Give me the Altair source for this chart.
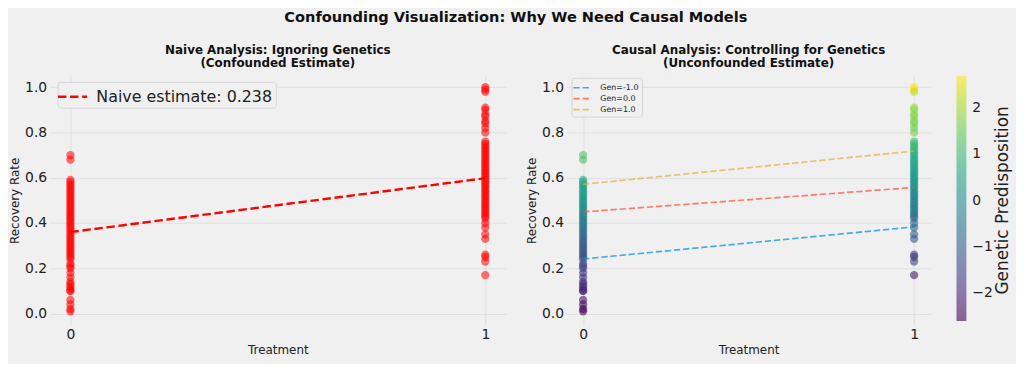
import altair as alt
import pandas as pd

# ---------------- data ----------------
t0_rate = [0.70, 0.68, 0.59, 0.58, 0.57, 0.56, 0.55, 0.54, 0.53, 0.52, 0.51, 0.50,
           0.49, 0.48, 0.47, 0.46, 0.45, 0.44, 0.43, 0.42, 0.41, 0.40, 0.39, 0.38,
           0.37, 0.36, 0.35, 0.34, 0.33, 0.32, 0.31, 0.30, 0.29, 0.28, 0.27, 0.26,
           0.25, 0.24, 0.22, 0.21, 0.20, 0.18, 0.16, 0.14, 0.13, 0.12, 0.11, 0.10,
           0.10, 0.06, 0.04, 0.02, 0.01]
t0_gen = [1.3, 1.2, 0.6, 0.5, 0.7, 0.4, 0.5, 0.3, 0.4, 0.2, 0.3, 0.1,
          0.2, 0.0, 0.1, -0.1, 0.0, -0.2, -0.3, -0.2, -0.4, -0.5, -0.4, -0.6,
          -0.7, -0.6, -0.8, -0.9, -0.8, -1.0, -1.1, -1.0, -1.2, -1.1, -1.3, -1.2,
          -1.4, -1.3, -1.5, -1.6, -1.5, -1.7, -1.8, -1.9, -1.8, -2.0, -1.9, -2.0,
          -2.1, -2.3, -2.4, -2.6, -2.5]

t1_rate = [1.00, 0.99, 0.98, 0.91, 0.90, 0.88, 0.87, 0.85, 0.84, 0.82, 0.80, 0.76,
           0.75, 0.74, 0.73, 0.72, 0.71, 0.70, 0.69, 0.68, 0.67, 0.66, 0.65, 0.64,
           0.63, 0.62, 0.61, 0.60, 0.59, 0.58, 0.57, 0.56, 0.55, 0.54, 0.53, 0.52,
           0.51, 0.50, 0.49, 0.48, 0.47, 0.46, 0.45, 0.44, 0.43, 0.42, 0.40, 0.38,
           0.35, 0.33, 0.26, 0.25, 0.23, 0.17]
t1_gen = [2.7, 2.6, 2.2, 1.9, 1.8, 1.7, 1.8, 1.6, 1.7, 1.5, 1.6, 1.0,
          1.1, 0.9, 1.0, 0.8, 0.9, 0.7, 0.8, 0.6, 0.7, 0.5, 0.6, 0.4,
          0.5, 0.3, 0.4, 0.2, 0.3, 0.1, 0.2, 0.0, 0.1, -0.1, 0.0, -0.2,
          -0.1, -0.3, -0.2, -0.4, -0.3, -0.5, -0.4, -0.6, -0.5, -0.7, -0.8, -0.9,
          -1.0, -1.1, -1.8, -1.7, -1.5, -2.2]

naive_treat = [0, 1]
naive_rate = [0.360, 0.598]
naive_label = "Naive estimate: 0.238"

gen_labels = ["Gen=-1.0", "Gen=0.0", "Gen=1.0"]
gen_rate_t0 = [0.241, 0.449, 0.571]
gen_rate_t1 = [0.383, 0.557, 0.718]
gen_colors = ["#008fd5", "#fc4f30", "#e5ae38"]

cbar_title = "Genetic Predisposition"

# ---------------- tables ----------------
points = pd.DataFrame({
    "treatment": [0] * len(t0_rate) + [1] * len(t1_rate),
    "rate": t0_rate + t1_rate,
    "gen": t0_gen + t1_gen,
})
naive = pd.DataFrame({"treatment": naive_treat, "rate": naive_rate,
                      "series": [naive_label] * 2})
rows = []
for lab, a, b in zip(gen_labels, gen_rate_t0, gen_rate_t1):
    rows.append({"treatment": 0, "rate": a, "series": lab})
    rows.append({"treatment": 1, "rate": b, "series": lab})
strata = pd.DataFrame(rows)

FONT = "DejaVu Sans"
BG = "#f0f0f0"
W_L, W_R, H = 460, 367, 251

xs = alt.Scale(domain=[-0.05, 1.05], nice=False, zero=False)
ys = alt.Scale(domain=[-0.05, 1.05], nice=False, zero=False)
xax = alt.Axis(values=[0, 1], format="d", title="Treatment")
yax = alt.Axis(values=[0, 0.2, 0.4, 0.6, 0.8, 1.0], format=".1f", title="Recovery Rate")

X = alt.X("treatment:Q", scale=xs, axis=xax)
Y = alt.Y("rate:Q", scale=ys, axis=yax)

# ---------------- left panel ----------------
left_pts = alt.Chart(points).mark_circle(size=70, opacity=0.55, color="red").encode(x=X, y=Y)
left_line = alt.Chart(naive).mark_line(strokeDash=[8.5, 3.7], strokeWidth=2.4).encode(
    x=X, y=Y,
    color=alt.Color("series:N",
                    scale=alt.Scale(domain=[naive_label], range=["red"]),
                    legend=alt.Legend(orient="none", legendX=8, legendY=6, title=None,
                                      symbolType="M-1.4,0H1.4", symbolStrokeWidth=2.4,
                                      symbolDash=[8.5, 3.7], symbolSize=441,
                                      labelFontSize=16, labelFont=FONT, labelColor="#222",
                                      labelLimit=400,
                                      fillColor=BG, strokeColor="#d4d4d4", padding=3,
                                      cornerRadius=3, labelOffset=12)),
)
left = alt.layer(left_pts, left_line).properties(
    width=W_L, height=H,
    title=alt.TitleParams(["Naive Analysis: Ignoring Genetics", "(Confounded Estimate)"],
                          fontSize=12, fontWeight="bold", font=FONT, lineHeight=13,
                          offset=6, anchor="middle", color="#111"),
)

# ---------------- right panel ----------------
right_pts = alt.Chart(points).mark_circle(size=70, opacity=0.6).encode(
    x=X, y=Y,
    color=alt.Color("gen:Q",
                    scale=alt.Scale(scheme="viridis", domain=[-2.6, 2.7], nice=False),
                    legend=alt.Legend(orient="right", title=None,
                                      gradientLength=247, gradientThickness=10,
                                      gradientStrokeWidth=0, offset=26,
                                      values=[-2, -1, 0, 1, 2], format="d",
                                      labelFontSize=14, labelFont=FONT, labelColor="#222",
                                      labelOffset=6)),
)
right_lines = alt.Chart(strata).mark_line(strokeDash=[6.4, 2.8], strokeWidth=1.7,
                                          opacity=0.7).encode(
    x=X, y=Y,
    color=alt.Color("series:N",
                    scale=alt.Scale(domain=gen_labels, range=gen_colors),
                    legend=alt.Legend(orient="none", legendX=5, legendY=2, title=None,
                                      symbolType="M-1.35,0H1.35", symbolStrokeWidth=1.7,
                                      symbolDash=[6.4, 2.8], symbolSize=144,
                                      symbolOpacity=0.7,
                                      labelFontSize=8, labelFont=FONT, labelColor="#222",
                                      fillColor=BG, strokeColor="#d4d4d4", padding=3,
                                      cornerRadius=3, labelOffset=12, rowPadding=0)),
)
cbar_lbl = alt.Chart(pd.DataFrame({"t": [cbar_title]})).mark_text(
    angle=270, align="center", baseline="middle", fontSize=17, font=FONT, color="#222"
).encode(text="t:N", x=alt.value(W_R + 73), y=alt.value(H / 2))

right = alt.layer(right_pts, right_lines, cbar_lbl).resolve_scale(color="independent").properties(
    width=W_R, height=H,
    title=alt.TitleParams(["Causal Analysis: Controlling for Genetics", "(Unconfounded Estimate)"],
                          fontSize=12, fontWeight="bold", font=FONT, lineHeight=13,
                          offset=6, anchor="middle", color="#111"),
)

chart = alt.hconcat(left, right, spacing=19).resolve_scale(color="independent").properties(
    title=alt.TitleParams("Confounding Visualization: Why We Need Causal Models",
                          fontSize=14.7, fontWeight="bold", font=FONT, anchor="middle",
                          offset=20, dx=6, color="#111"),
    padding={"left": 0, "top": 0, "right": 5, "bottom": 7},
).configure(background=BG).configure_view(stroke=None).configure_axis(
    labelFont=FONT, labelFontSize=14, labelColor="#222",
    titleFont=FONT, titleFontSize=12, titleFontWeight="normal", titleColor="#222",
    domain=False, ticks=False, gridColor="#e0e0e0", gridWidth=1,
    labelPadding=3, titlePadding=3,
)

chart.save("out.html", embed_options={"renderer": "svg", "actions": False})
